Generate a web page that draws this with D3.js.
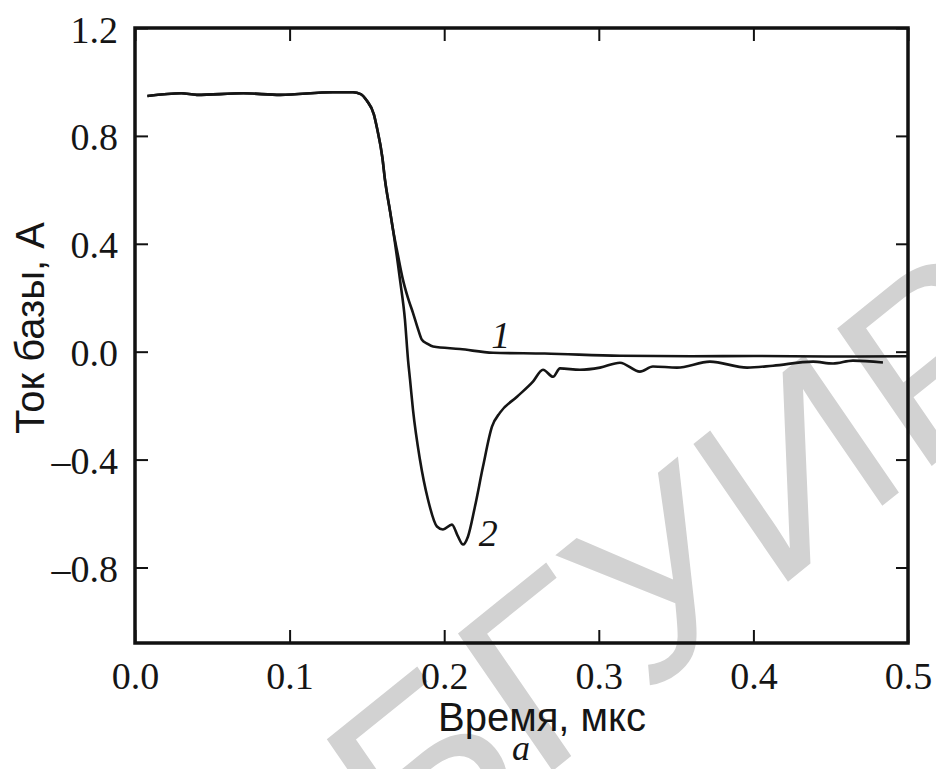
<!DOCTYPE html>
<html>
<head>
<meta charset="utf-8">
<script src="https://cdn.jsdelivr.net/npm/d3@7"></script>
<style>
  html, body { margin: 0; padding: 0; background: #fff; }
  svg { display: block; }
</style>
</head>
<body>
<svg id="chart" width="936" height="769"></svg>
<script>
// Base current vs. time, two transients
const curve1Time = [0.008, 0.030, 0.040, 0.070, 0.094, 0.128, 0.141, 0.146, 0.150, 0.1545, 0.1565, 0.160, 0.1617, 0.1650, 0.1669,
  0.1700, 0.1733, 0.1765, 0.1798, 0.1830, 0.1856, 0.1890, 0.1928, 0.2102, 0.2316, 0.2650, 0.3137, 0.3600, 0.4000, 0.4500, 0.5000];
const curve1Current = [0.948, 0.958, 0.952, 0.958, 0.952, 0.962, 0.962, 0.955, 0.930, 0.880, 0.830, 0.720, 0.637, 0.520, 0.452,
  0.360, 0.267, 0.200, 0.144, 0.085, 0.044, 0.030, 0.019, 0.010, -0.004, -0.007, -0.015, -0.017, -0.016, -0.018, -0.017];

const curve2Time = [0.008, 0.030, 0.040, 0.070, 0.094, 0.128, 0.141, 0.146, 0.150, 0.1545, 0.1565, 0.160, 0.1617, 0.1650, 0.1669,
  0.1714, 0.1746, 0.1766, 0.1779, 0.1798, 0.1843, 0.1895, 0.1953, 0.1992, 0.2050, 0.2089, 0.2122, 0.2154, 0.2199, 0.2251,
  0.2309, 0.2361, 0.2471, 0.2574, 0.2639, 0.2704, 0.2749, 0.2878, 0.3008, 0.3137, 0.3266, 0.3350, 0.3506, 0.3719, 0.3959,
  0.4127, 0.4386, 0.4515, 0.4644, 0.4838];
const curve2Current = [0.948, 0.958, 0.952, 0.958, 0.952, 0.962, 0.962, 0.955, 0.930, 0.880, 0.830, 0.720, 0.637, 0.520, 0.452,
  0.267, 0.119, -0.030, -0.104, -0.215, -0.400, -0.548, -0.648, -0.659, -0.641, -0.685, -0.715, -0.685, -0.574, -0.426,
  -0.278, -0.226, -0.167, -0.111, -0.067, -0.093, -0.062, -0.067, -0.059, -0.041, -0.074, -0.055, -0.059, -0.037, -0.059,
  -0.052, -0.037, -0.044, -0.033, -0.040];

const xTicks = [0.0, 0.1, 0.2, 0.3, 0.4, 0.5];
const yTicks = [1.2, 0.8, 0.4, 0.0, -0.4, -0.8];
const curveNames = ["1", "2"];

const svg = d3.select("#chart");
const W = 936, H = 769;
const plot = { left: 135, right: 908, top: 28, bottom: 643 };

const x = d3.scaleLinear().domain([0, 0.5]).range([plot.left, plot.right]);
const y = d3.scaleLinear().domain([-1.08, 1.2]).range([plot.bottom, plot.top]);

svg.append("rect").attr("width", W).attr("height", H).attr("fill", "#fff");

// faint slanted watermark behind the chart
svg.append("text")
  .attr("transform", "matrix(0.8,-0.644,0.55,0.8,405,890)")
  .attr("font-family", "Liberation Sans, Arial, sans-serif")
  .attr("font-size", 250)
  .attr("fill", "#d2d2d2")
  .text("БГУИР");

const fmt = v => d3.format(".1f")(v).replace("−", "–").replace("-", "–");
const serif = "Liberation Serif, Times New Roman, serif";
const sans = "Liberation Sans, Arial, sans-serif";

// axes with inward ticks
const gLeft = svg.append("g").attr("transform", `translate(${plot.left},0)`)
  .call(d3.axisLeft(y).tickValues(yTicks).tickSize(-13).tickPadding(17).tickFormat(fmt));
const gRight = svg.append("g").attr("transform", `translate(${plot.right},0)`)
  .call(d3.axisRight(y).tickValues(yTicks).tickSize(-12).tickFormat(""));
const gBottom = svg.append("g").attr("transform", `translate(0,${plot.bottom})`)
  .call(d3.axisBottom(x).tickValues(xTicks).tickSize(-13).tickPadding(19).tickFormat(d3.format(".1f")));
const gTop = svg.append("g").attr("transform", `translate(0,${plot.top})`)
  .call(d3.axisTop(x).tickValues(xTicks).tickSize(-13).tickFormat(""));

[gLeft, gRight, gBottom, gTop].forEach(g => {
  g.select(".domain").remove();
  g.selectAll(".tick line").attr("stroke", "#111").attr("stroke-width", 2);
  g.selectAll(".tick text").attr("font-family", serif).attr("font-size", 38).attr("fill", "#151515");
});
gLeft.selectAll(".tick text").attr("dy", "0.37em");

// plot frame
svg.append("rect")
  .attr("x", plot.left).attr("y", plot.top)
  .attr("width", plot.right - plot.left).attr("height", plot.bottom - plot.top)
  .attr("fill", "none").attr("stroke", "#111").attr("stroke-width", 3.5);

// curves
const line = d3.line().x(d => x(d[0])).y(d => y(d[1])).curve(d3.curveMonotoneX);
const series = [
  d3.zip(curve1Time, curve1Current),
  d3.zip(curve2Time, curve2Current)
];
svg.append("g").selectAll("path").data(series).join("path")
  .attr("d", line)
  .attr("fill", "none")
  .attr("stroke", "#151515")
  .attr("stroke-width", 2.6)
  .attr("stroke-linejoin", "round");

// curve numbers
const labelPos = [[0.2365, 0.015], [0.2285, -0.72]];
svg.append("g").selectAll("text").data(curveNames).join("text")
  .attr("x", (d, i) => x(labelPos[i][0]))
  .attr("y", (d, i) => y(labelPos[i][1]))
  .attr("text-anchor", "middle")
  .attr("font-family", serif).attr("font-style", "italic").attr("font-size", 38)
  .attr("fill", "#151515")
  .text(d => d);

// axis titles
svg.append("text")
  .attr("x", 542).attr("y", 731)
  .attr("text-anchor", "middle")
  .attr("font-family", sans).attr("font-size", 40).attr("fill", "#151515")
  .text("Время, мкс");

svg.append("text")
  .attr("transform", "translate(44,328) rotate(-90)")
  .attr("text-anchor", "middle")
  .attr("font-family", sans).attr("font-size", 40).attr("fill", "#151515")
  .text("Ток базы, А");

svg.append("text")
  .attr("x", 521).attr("y", 760)
  .attr("text-anchor", "middle")
  .attr("font-family", serif).attr("font-style", "italic").attr("font-size", 36)
  .attr("fill", "#151515")
  .text("a");
</script>
</body>
</html>
